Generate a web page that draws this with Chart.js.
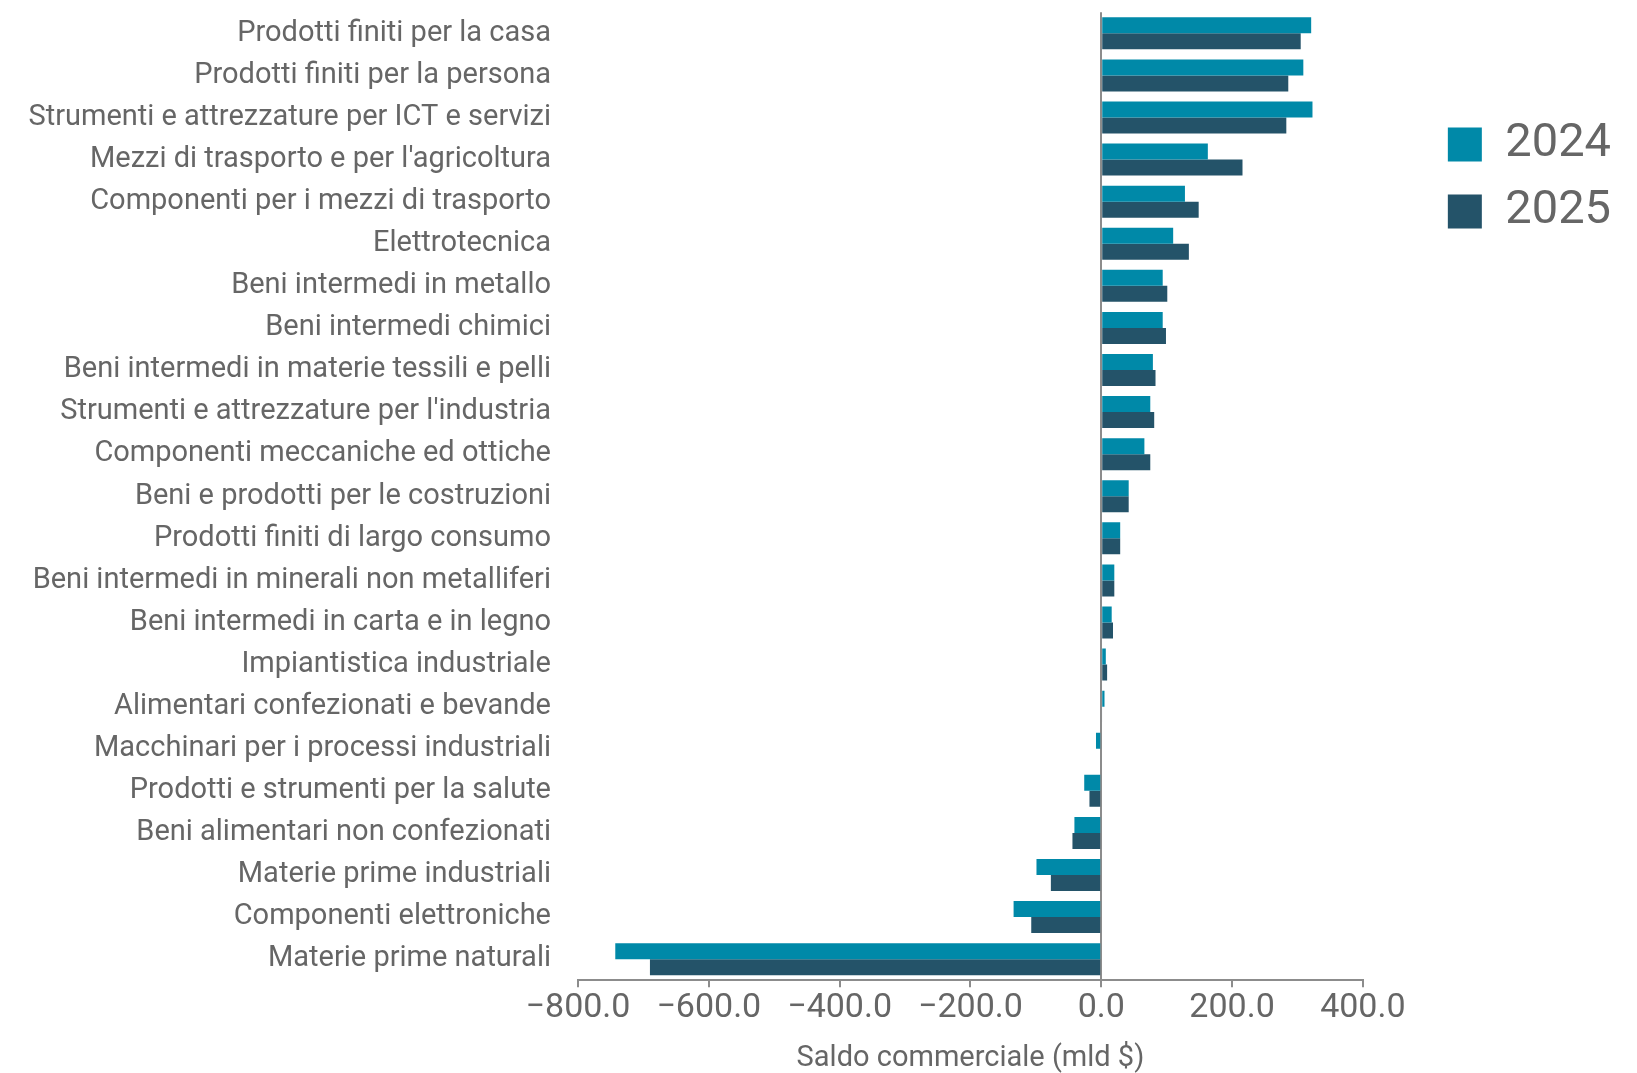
<!DOCTYPE html>
<html>
<head>
<meta charset="utf-8">
<script src="https://cdn.jsdelivr.net/npm/chart.js@4"></script>
<style>
  html, body { margin: 0; padding: 0; background: #ffffff; }
  #wrap { width: 1637px; height: 1073px; }
</style>
</head>
<body>
<div id="wrap"><canvas id="c" width="1637" height="1073"></canvas></div>
<script>
const categories = [
  "Prodotti finiti per la casa",
  "Prodotti finiti per la persona",
  "Strumenti e attrezzature per ICT e servizi",
  "Mezzi di trasporto e per l'agricoltura",
  "Componenti per i mezzi di trasporto",
  "Elettrotecnica",
  "Beni intermedi in metallo",
  "Beni intermedi chimici",
  "Beni intermedi in materie tessili e pelli",
  "Strumenti e attrezzature per l'industria",
  "Componenti meccaniche ed ottiche",
  "Beni e prodotti per le costruzioni",
  "Prodotti finiti di largo consumo",
  "Beni intermedi in minerali non metalliferi",
  "Beni intermedi in carta e in legno",
  "Impiantistica industriale",
  "Alimentari confezionati e bevande",
  "Macchinari per i processi industriali",
  "Prodotti e strumenti per la salute",
  "Beni alimentari non confezionati",
  "Materie prime industriali",
  "Componenti elettroniche",
  "Materie prime naturali"
];
const values2024 = [321, 309, 323, 163, 128, 110, 94, 94, 79, 75, 66, 42, 29, 20, 16, 7, 5, -8, -26, -41, -99, -134, -743];
const values2025 = [305, 286, 283, 216, 149, 134, 101, 99, 83, 81, 75, 42, 29, 20, 18, 9, 1.5, 0, -18, -44, -77, -107, -690];
const seriesNames = ["2024", "2025"];
const xTicks = { min: -800, max: 400, step: 200 };
const axisTitle = "Saldo commerciale (mld $)";

const textColor = "#666666";
const axisColor = "#8c8c8c";

const legendShift = {
  id: "legendShift",
  afterLayout(chart) {
    const lg = chart.legend;
    if (!lg) return;
    lg.left += 65; lg.right += 65;
    lg.top += 101; lg.bottom += 101;
  }
};

new Chart(document.getElementById("c"), {
  type: "bar",
  data: {
    labels: categories,
    datasets: [
      { label: seriesNames[0], data: values2024, backgroundColor: "#0089a8" },
      { label: seriesNames[1], data: values2025, backgroundColor: "#245369" }
    ]
  },
  options: {
    indexAxis: "y",
    responsive: false,
    animation: false,
    devicePixelRatio: 1,
    categoryPercentage: 0.76,
    barPercentage: 1.0,
    layout: { padding: { top: 0, right: 81, bottom: 0, left: 0 } },
    scales: {
      x: {
        type: "linear",
        min: xTicks.min,
        max: xTicks.max,
        ticks: {
          stepSize: xTicks.step,
          color: textColor,
          padding: 1,
          maxRotation: 0,
          font: { family: "Roboto", size: 34 },
          callback: (v) => (v < 0 ? "\u2212" : "") + Math.abs(v).toFixed(1)
        },
        grid: {
          drawOnChartArea: true,
          color: (ctx) => (ctx.tick && ctx.tick.value === 0 ? axisColor : "rgba(0,0,0,0)"),
          lineWidth: 2,
          tickColor: axisColor,
          tickLength: 7,
          tickWidth: 2
        },
        border: { display: true, color: axisColor, width: 2 },
        title: {
          display: true,
          text: axisTitle,
          color: textColor,
          font: { family: "Roboto", size: 29, lineHeight: 1 },
          padding: { top: 14, bottom: 0 }
        }
      },
      y: {
        ticks: {
          color: textColor,
          padding: 0,
          font: { family: "Roboto", size: 29, lineHeight: 0.85 },
          autoSkip: false
        },
        grid: {
          display: true,
          drawOnChartArea: false,
          drawTicks: true,
          tickLength: 27,
          tickColor: "rgba(0,0,0,0)",
          color: "rgba(0,0,0,0)"
        },
        border: { display: false },
        afterFit: (scale) => { scale.width = 578; }
      }
    },
    plugins: {
      legend: {
        position: "right",
        align: "start",
        labels: {
          boxWidth: 34,
          boxHeight: 34,
          padding: 20,
          color: textColor,
          font: { family: "Roboto", size: 47 }
        }
      },
      tooltip: { enabled: false }
    }
  },
  plugins: [legendShift]
});
</script>
</body>
</html>
